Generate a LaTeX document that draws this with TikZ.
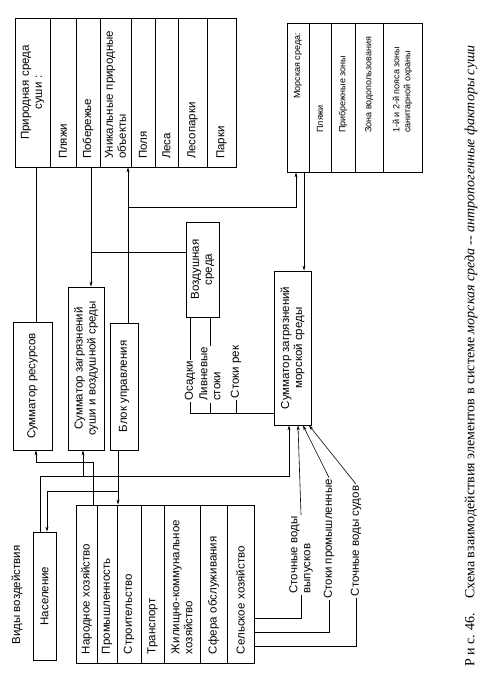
\documentclass[tikz,border=0pt]{standalone}
\usepackage{fontspec}
\setmainfont{Liberation Sans}
\newfontfamily\capfont{Liberation Serif}
\usepackage{tikz}
\usetikzlibrary{
    arrows.meta,
    positioning
}
\newcommand{\diagfont}{\fontsize{11.5}{13}\selectfont}
\newcommand{\seafont}{\fontsize{9}{11}\selectfont}
\tikzstyle{block} = [
    rectangle,
    draw=black,
    line width=0.8pt,
    rotate=90,
    align=center,
    inner sep=2pt,
    font=\diagfont
]
\tikzstyle{column} = [
    rectangle,
    draw=black,
    line width=0.8pt,
    rotate=90,
    align=left,
    inner ysep=2pt,
    font=\diagfont
]
\tikzstyle{natcol} = [column, minimum width=149pt, text width=133pt]
\tikzstyle{seacol} = [column, minimum width=149pt]
\tikzstyle{ecocol} = [column, minimum width=158pt, text width=140pt]
\tikzstyle{tag} = [
    rectangle,
    rotate=90,
    align=left,
    inner sep=1.5pt,
    font=\diagfont
]
\tikzstyle{seatag} = [tag, anchor=west, font=\seafont]
\tikzstyle{wire} = [line width=0.6pt]
\tikzstyle{feed} = [
    -{Stealth[length=5pt,width=3pt]},
    line width=0.6pt
]

\begin{document}
\begin{tikzpicture}[x=1pt, y=-1pt]
        \path[use as bounding box, fill=white] (0,0) rectangle (487,684);

        % Природная среда суши
        \node[natcol, align=center, minimum height=35pt] (nat1) at (32.5,92.5) {Природная среда\\суши :};
        \node[natcol, minimum height=26pt] (nat2) at (63,92.5) {Пляжи};
        \node[natcol, minimum height=24pt] (nat3) at (88,92.5) {Побережье};
        \node[natcol, minimum height=31pt] (nat4) at (115.5,92.5) {Уникальные природные\\объекты};
        \node[natcol, minimum height=24pt] (nat5) at (143,92.5) {Поля};
        \node[natcol, minimum height=23pt] (nat6) at (166.5,92.5) {Леса};
        \node[natcol, minimum height=29pt] (nat7) at (192.5,92.5) {Лесопарки};
        \node[natcol, minimum height=29pt] (nat8) at (221.5,92.5) {Парки};

        % Морская среда
        \node[seacol, minimum height=22pt] (sea1) at (298,97.5) {};
        \node[seacol, minimum height=22pt] (sea2) at (320,97.5) {};
        \node[seacol, minimum height=24pt] (sea3) at (343,97.5) {};
        \node[seacol, minimum height=28pt] (sea4) at (369,97.5) {};
        \node[seacol, minimum height=39pt] (sea5) at (402.5,97.5) {};
        \node[seatag] (seaT1) at ([yshift=72pt]sea1.west) {Морская среда:};
        \node[seatag] (seaT2) at ([yshift=38pt]sea2.west) {Пляжи};
        \node[seatag] (seaT3) at ([yshift=38pt]sea3.west) {Прибрежные зоны};
        \node[seatag] (seaT4) at ([yshift=38pt]sea4.west) {Зона водопользования};
        \node[seatag] (seaT5) at ([yshift=38pt]sea5.west) {1-й и 2-й пояса зоны\\санитарной охраны};

        % Сумматоры и блоки
        \node[block, minimum width=128pt, minimum height=39pt] (res) at (32.5,386) {Сумматор ресурсов};
        \node[block, minimum width=163pt, minimum height=36pt] (sumland) at (86,368.5) {Сумматор загрязнений\\суши и воздушной среды};
        \node[block, minimum width=127pt, minimum height=28pt] (ctrl) at (124,386.5) {Блок управления};
        \node[block, minimum width=95pt, minimum height=33pt] (air) at (202.5,269.5) {Воздушная\\среда};
        \node[block, minimum width=154pt, minimum height=37pt] (sumsea) at (292.5,348) {Сумматор загрязнений\\морской среды};
        \node[block, minimum width=128pt, minimum height=23pt] (pop) at (44.5,596) {Население};
        \node[tag] (types) at (17,595) {Виды воздействия};

        % Народное хозяйство
        \node[ecocol, minimum height=21pt] (eco1) at (86.5,584) {Народное хозяйство};
        \node[ecocol, minimum height=20pt] (eco2) at (107,584) {Промышленность};
        \node[ecocol, minimum height=24pt] (eco3) at (129,584) {Строительство};
        \node[ecocol, minimum height=23pt] (eco4) at (152.5,584) {Транспорт};
        \node[ecocol, minimum height=36pt] (eco5) at (182,584) {Жилищно-коммунальное\\хозяйство};
        \node[ecocol, minimum height=27pt] (eco6) at (213.5,584) {Сфера обслуживания};
        \node[ecocol, minimum height=27pt] (eco7) at (240.5,584) {Сельское хозяйство};

        % Стоки
        \node[tag] (osad) at (190,381) {Осадки};
        \node[tag] (livn) at (210,374) {Ливневые\\стоки};
        \node[tag] (rek) at (236,372) {Стоки рек};
        \node[tag] (vyp) at (301,555) {Сточные воды\\выпусков};
        \node[tag] (prom) at (329,539) {Стоки промышленные};
        \node[tag] (sud) at (356,541) {Сточные воды судов};

        \node[rotate=90, inner sep=0pt, font=\capfont\fontsize{14}{16}\selectfont] (caption) at (471,356)
            {Р и с. 46.\quad Схема взаимодействия элементов в системе \textit{морская среда -- антропогенные факторы суши}};

        % wires and buses
        \coordinate (wRes) at (36,0);
        \coordinate (wPop) at (40,0);
        \coordinate (wPopIn) at (47,0);
        \coordinate (wSumLB) at (83,0);
        \coordinate (wSumL) at (91,0);
        \coordinate (wEco) at (93,0);
        \coordinate (wCtrlD) at (118,0);
        \coordinate (wCtrl) at (128,0);
        \coordinate (wSumS) at (289,0);
        \coordinate (wSeaIn) at (296,0);
        \coordinate (wV1) at (298,0);
        \coordinate (wV2) at (303,0);
        \coordinate (wSeaOut) at (304,0);
        \coordinate (wV3) at (309,0);
        \coordinate (bSea) at (0,207);
        \coordinate (bAir) at (0,252);
        \coordinate (bRiv) at (0,413);
        \coordinate (bRes) at (0,462);
        \coordinate (bPop) at (0,476);
        \coordinate (bCtrl) at (0,491);
        \coordinate (bV1) at (0,618);
        \coordinate (bV2) at (0,632);
        \coordinate (bV3) at (0,646);

        % upper links
        \draw[wire] (nat1.west -| wRes) -- (res.east -| wRes);
        \draw[feed] (nat3.west -| wSumL) -- (sumland.east -| wSumL);
        \draw[wire] (air.north |- bAir) -- (bAir -| wSumL);
        \draw[feed] (ctrl.east -| wCtrl) -- (nat4.west -| wCtrl);
        \draw[feed] (bSea -| wCtrl) -| (sea1.west -| wSeaIn);
        \draw[feed] (sea1.west -| wSeaOut) -- (sumsea.east -| wSeaOut);

        \draw[wire] (air.west -| osad) -- (osad.east);
        \draw[wire] (osad.west) |- (sumsea.north |- bRiv);
        \draw[wire] (air.west -| livn) -- (livn.east);
        \draw[wire] (livn.west) -- (livn.west |- bRiv);
        \draw[wire] (rek.west) -- (rek.west |- bRiv);

        % lower links
        \draw[feed] (eco1.east -| wEco) |- (bRes -| wRes) -- (res.west -| wRes);
        \draw[feed] (pop.east -| wPop) |- (bPop -| wSumS) -- (sumsea.west -| wSumS);
        \draw[feed] (bPop -| wSumLB) -- (sumland.west -| wSumLB);
        \draw[feed] (ctrl.west -| wCtrlD) -- (eco3.east -| wCtrlD);
        \draw[feed] (bCtrl -| wCtrlD) -| (pop.east -| wPopIn);

        \draw[wire] (eco7.south |- bV1) -| (vyp.west);
        \draw[feed] (vyp.east) -- (sumsea.west -| wV1);
        \draw[wire] (eco7.south |- bV2) -| (prom.west);
        \draw[feed] (prom.east) -- (sumsea.west -| wV2);
        \draw[wire] (eco7.south |- bV3) -| (sud.west);
        \draw[feed] (sud.east) -- (sumsea.west -| wV3);
    \end{tikzpicture}
\end{document}
